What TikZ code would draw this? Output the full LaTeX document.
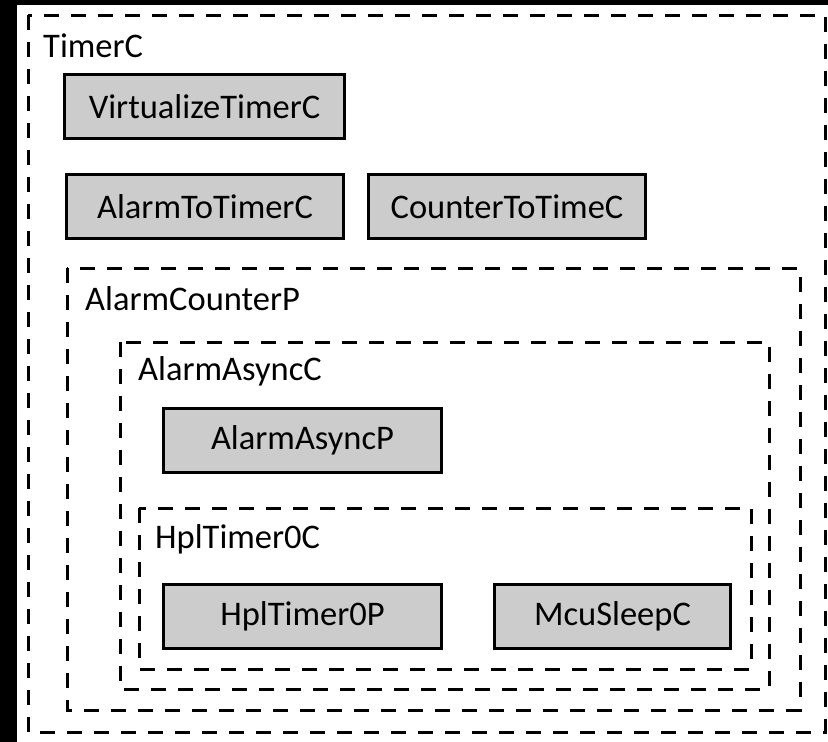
\documentclass[tikz,border=0pt]{standalone}
\usepackage{fontspec}
\setmainfont{Carlito}

\begin{document}
\begin{tikzpicture}[x=1pt,y=-1pt,
    every node/.style={font=\fontsize{34.5}{40}\selectfont},
    comp/.style={draw=black,line width=3pt,fill=gray!40!white,minimum height=64pt,inner sep=0pt},
    grp/.style={line width=3pt,dash pattern=on 15pt off 12pt},
    grpname/.style={anchor=base west,inner sep=0pt}]
      \useasboundingbox (0,0) rectangle (828,742) ;
      \fill[black] (0,0) rectangle (828,742) ;
      \fill[white] (17,5) rectangle (828,742) ;
      % nested configurations
      \draw[grp] (28,15) rectangle (825,732) ;
      \node[grpname] (timerC) at (43,57) {TimerC} ;
      \draw[grp] (67,268) rectangle (800,710) ;
      \node[grpname] (alarmCounterP) at (85,310) {AlarmCounterP} ;
      \draw[grp] (120,342) rectangle (769,689) ;
      \node[grpname] (alarmAsyncC) at (138,380) {AlarmAsyncC} ;
      \draw[grp] (139,508) rectangle (751,669) ;
      \node[grpname] (hplTimer0C) at (155,548) {HplTimer0C} ;
      % modules
      \node[comp,minimum width=280pt] (virtTimer) at (204.5,106.5) {VirtualizeTimerC} ;
      \node[comp,minimum width=277pt] (alarmToTimer) at (205,206.5) {AlarmToTimerC} ;
      \node[comp,minimum width=277pt] (counterToTime) at (507,206.5) {CounterToTimeC} ;
      \node[comp,minimum width=278pt] (alarmAsyncP) at (302.5,440.5) {AlarmAsyncP} ;
      \node[comp,minimum width=278pt] (hplTimer0P) at (302.5,616.5) {HplTimer0P} ;
      \node[comp,minimum width=236pt] (mcuSleep) at (612.5,616.5) {McuSleepC} ;
\end{tikzpicture}
\end{document}
